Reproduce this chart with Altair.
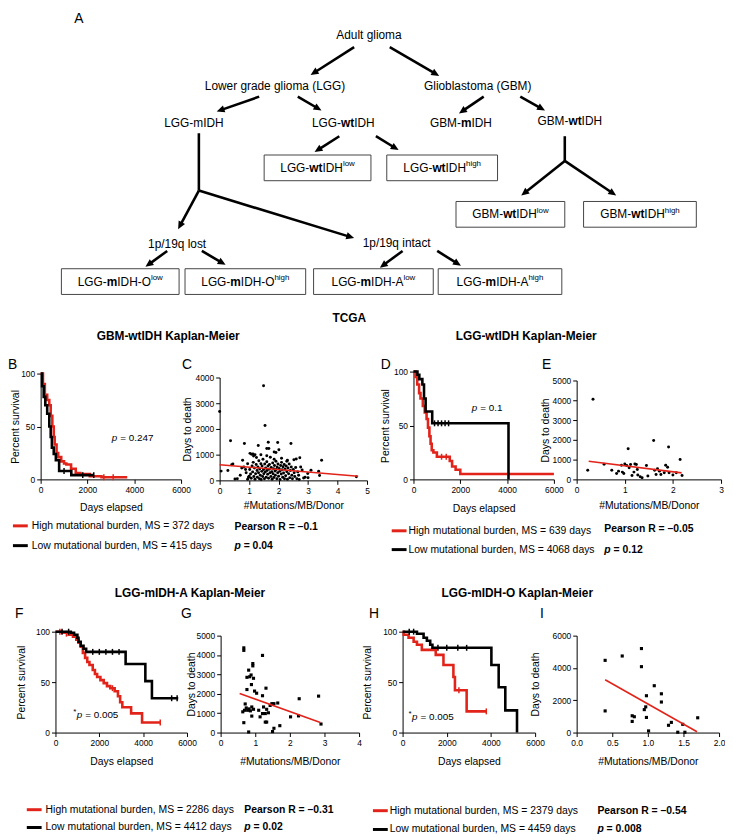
import math
import altair as alt
import pandas as pd

RED = "#e2231a"
FONT = "Liberation Sans, Arial, Helvetica, sans-serif"

# ---------------- Kaplan-Meier curves (days, % survival) ----------------
B_hi_t = [0, 100, 180, 280, 370, 430, 500, 560, 600, 680, 750, 880, 1000, 1100, 1300, 1500, 1700, 2100, 2600, 3700]
B_hi_s = [100, 90, 80, 75, 70, 60, 50, 40, 33, 25, 21, 17, 15, 14, 10, 6, 5, 3, 2, 2]
B_lo_t = [0, 60, 130, 200, 280, 370, 430, 480, 560, 650, 790, 1310, 2270]
B_lo_s = [100, 88, 78, 70, 62, 50, 40, 30, 24, 18, 8, 4, 4]

D_hi_t = [0, 90, 160, 240, 300, 400, 480, 560, 620, 680, 730, 780, 850, 1000, 1550, 1650, 1800, 2000, 6000]
D_hi_s = [100, 95, 88, 80, 75, 68, 62, 56, 48, 40, 33, 27, 25, 21, 17, 12, 9, 5, 5]
D_lo_t = [0, 170, 250, 380, 450, 520, 800, 4060]
D_lo_s = [100, 97, 93, 88, 75, 63, 52, 0]

F_hi_t = [0, 300, 600, 800, 950, 1050, 1150, 1250, 1350, 1450, 1550, 1700, 1800, 1900, 2050, 2200, 2350, 2500, 2700, 2850, 2950, 3050, 3450, 3950, 4780]
F_hi_s = [100, 99, 97, 95, 92, 89, 85, 79, 74, 70, 67, 62, 58, 55, 52, 49, 46, 44, 41, 36, 30, 25, 19, 10, 10]
F_lo_t = [0, 700, 850, 1000, 1050, 1150, 1280, 1400, 3200, 4100, 4400, 5600]
F_lo_s = [100, 99, 97, 94, 90, 86, 83, 80, 68, 51, 34, 34]

H_hi_t = [0, 50, 270, 500, 650, 870, 1500, 1850, 2300, 2370, 2900, 3790]
H_hi_s = [100, 97, 94, 90, 87, 82, 77, 67, 55, 42, 21, 21]
H_lo_t = [0, 650, 950, 1100, 1250, 1350, 4020, 4350, 4650, 5180]
H_lo_s = [100, 98, 94, 91, 87, 84, 67, 45, 22, 0]

# censored observations (days, % survival)
B_hi_ct, B_hi_cs = [1500, 2700, 3100], [6, 2, 2]
B_lo_ct, B_lo_cs = [1000, 1800, 2270], [8, 4, 4]
D_hi_ct, D_hi_cs = [1200, 1400], [21, 21]
D_lo_ct, D_lo_cs = [900, 1050, 1200, 1350, 1500], [52, 52, 52, 52, 52]
F_hi_ct, F_hi_cs = [200, 500, 2600, 4780], [100, 98, 44, 10]
F_lo_ct, F_lo_cs = [300, 600, 1700, 2000, 2300, 2600, 2900, 5300, 5550], [100, 100, 80, 80, 80, 80, 80, 34, 34]
H_hi_ct, H_hi_cs = [2550, 3790], [42, 21]
H_lo_ct, H_lo_cs = [300, 500, 1600, 2000, 2500, 2900], [100, 100, 84, 84, 84, 84]

# ---------------- scatter data (#mutations/MB/donor, days to death) ----------------
C_x = [0.00, 0.05, 0.28, 0.37, 0.41, 0.45, 0.52, 0.60, 0.70, 0.75, 0.78, 0.82, 0.84, 0.88, 0.90, 0.95, 0.95, 0.98,
       1.00, 1.03, 1.08, 1.13, 1.15, 1.20, 1.31, 1.40, 1.49, 1.54, 1.60, 1.60, 1.65, 1.67, 1.85, 1.85, 1.91, 1.97,
       2.01, 2.10, 2.28, 2.30, 2.42, 2.52, 2.60, 2.72, 2.75, 2.80, 2.85, 2.90, 2.99, 3.00, 3.10, 3.36, 3.39, 3.46, 4.64,
       1.02, 1.05, 1.07, 1.10, 1.12, 1.14, 1.16, 1.18, 1.20, 1.22, 1.24, 1.25, 1.27, 1.28, 1.30, 1.32, 1.33, 1.35,
       1.36, 1.38, 1.40, 1.41, 1.43, 1.44, 1.46, 1.47, 1.49, 1.50, 1.52, 1.53, 1.55, 1.56, 1.58, 1.60, 1.61, 1.63,
       1.64, 1.66, 1.68, 1.69, 1.71, 1.72, 1.74, 1.75, 1.77, 1.78, 1.80, 1.81, 1.83, 1.84, 1.86, 1.88, 1.89, 1.91,
       1.92, 1.94, 1.95, 1.97, 1.98, 2.00, 2.02, 2.04, 2.05, 2.07, 2.09, 2.10, 2.12, 2.14, 2.15, 2.17, 2.19, 2.20,
       2.22, 2.24, 2.26, 2.28, 2.30, 2.32, 2.34, 2.36, 2.38, 2.40, 2.43, 2.45, 2.47, 2.50, 2.53, 2.55, 2.58, 2.62,
       2.65, 2.68, 2.70]
C_y = [2680, 360, 380, 1540, 610, 640, 50, 60, 200, 480, 780, 520, 1430, 420, 300, 650, 40, 120,
       160, 1050, 1020, 1030, 950, 1000, 1355, 1000, 3680, 2130, 1240, 960, 1480, 1240, 1100, 820, 1086, 1470,
       1190, 860, 740, 780, 1430, 805, 830, 880, 524, 400, 90, 120, 268, 100, 396, 358, 192, 780, 140,
       420, 250, 80, 560, 330, 700, 150, 480, 40, 260, 620, 890, 380, 120, 520, 300, 760, 60,
       440, 200, 650, 30, 350, 560, 150, 820, 420, 260, 60, 640, 330, 480, 120, 720, 380, 240,
       560, 80, 430, 620, 300, 900, 150, 500, 340, 40, 680, 260, 450, 110, 580, 360, 200, 740,
       420, 60, 520, 300, 640, 160, 460, 350, 30, 580, 250, 700, 410, 120, 530, 290, 620, 60,
       440, 180, 560, 340, 40, 480, 260, 640, 100, 380, 520, 200, 60, 420, 300, 150, 500, 60,
       330, 200, 30]
C_fit_x = [0.0, 4.7]
C_fit_y = [610, 160]

E_x = [0.23, 0.34, 0.57, 0.73, 0.83, 0.87, 0.93, 0.95, 0.98, 1.00, 1.04, 1.07, 1.09, 1.12, 1.15, 1.19, 1.21, 1.24,
       1.26, 1.27, 1.32, 1.36, 1.45, 1.48, 1.60, 1.62, 1.65, 1.68, 1.72, 1.75, 1.82, 1.85, 1.89, 1.91, 1.92, 2.00,
       2.07, 2.15, 2.19]
E_y = [467, 4050, 767, 467, 300, 417, 717, 367, 300, 783, 700, 1550, 583, 750, 200, 367, 783, 750,
       500, 217, 133, 83, 700, 167, 1967, 467, 250, 533, 417, 250, 333, 717, 617, 1633, 333, 217,
       333, 1000, 200]
E_fit_x = [0.25, 2.18]
E_fit_y = [920, 330]

G_x = [0.81, 0.67, 0.67, 1.21, 0.93, 0.93, 0.76, 0.84, 0.88, 0.95, 0.89, 0.76, 0.98, 1.04, 1.31, 1.21, 0.71, 0.69,
       0.74, 0.78, 0.82, 0.86, 0.90, 0.95, 0.64, 0.67, 0.81, 0.90, 1.10, 1.14, 1.21, 1.24, 1.29, 1.33, 1.38, 1.43,
       1.48, 1.54, 1.65, 1.29, 1.33, 1.54, 1.50, 1.71, 2.02, 2.25, 2.27, 2.83, 2.90]
G_y = [3220, 4370, 4240, 3980, 3560, 3440, 2850, 2880, 2970, 2800, 2475, 2220, 2140, 2030, 2290, 1900, 1475, 1150,
       1270, 1150, 1220, 1120, 1320, 1200, 1070, 510, 30, 850, 1150, 810, 980, 1320, 980, 1200, 1020, 1400,
       1490, 1490, 1525, 540, 540, 220, 50, 355, 810, 860, 1745, 1880, 440]
G_fit_x = [0.55, 2.88]
G_fit_y = [2020, 520]

I_x = [0.40, 0.64, 0.91, 0.91, 0.40, 1.09, 0.98, 1.19, 1.19, 0.97, 0.95, 0.78, 0.81, 0.78, 0.98, 1.01, 1.33,
       1.29, 1.49, 1.42, 1.52, 1.70]
I_y = [4470, 4740, 5200, 4080, 1340, 2900, 2280, 2400, 1890, 1590, 1420, 1040, 980, 690, 935, 100, 630,
       450, 510, 20, 20, 915]
I_fit_x = [0.40, 1.69]
I_fit_y = [3270, 50]

# ---------------- diagram text ----------------
NODE_LABELS = [
    [("Adult glioma", "n")],
    [("Lower grade glioma (LGG)", "n")],
    [("Glioblastoma (GBM)", "n")],
    [("LGG-mIDH", "n")],
    [("LGG-", "n"), ("wt", "b"), ("IDH", "n")],
    [("GBM-", "n"), ("m", "b"), ("IDH", "n")],
    [("GBM-", "n"), ("wt", "b"), ("IDH", "n")],
    [("1p/19q lost", "n")],
    [("1p/19q intact", "n")],
    [("TCGA", "b")],
]
BOX_LABELS = [
    [("LGG-", "n"), ("wt", "b"), ("IDH", "n"), ("low", "s")],
    [("LGG-", "n"), ("wt", "b"), ("IDH", "n"), ("high", "s")],
    [("GBM-", "n"), ("wt", "b"), ("IDH", "n"), ("low", "s")],
    [("GBM-", "n"), ("wt", "b"), ("IDH", "n"), ("high", "s")],
    [("LGG-", "n"), ("m", "b"), ("IDH-O", "n"), ("low", "s")],
    [("LGG-", "n"), ("m", "b"), ("IDH-O", "n"), ("high", "s")],
    [("LGG-", "n"), ("m", "b"), ("IDH-A", "n"), ("low", "s")],
    [("LGG-", "n"), ("m", "b"), ("IDH-A", "n"), ("high", "s")],
]

# ---------------- layout (pixels) ----------------
VIEW_W, VIEW_H = 725, 830
NODE_POS = [(365, 23), (270, 74), (475, 74), (188, 112), (339, 112), (458, 112), (568, 110),
            (171, 234), (393, 233), (345, 309)]
BOX_POS = [(259, 144, 367, 170), (383, 144, 495, 170), (453, 191, 563, 217), (582, 191, 696, 217),
           (54, 259, 173, 285), (179, 259, 301, 285), (309, 259, 430, 285), (435, 259, 560, 285)]
ARROWS = [  # x1, y1, x2, y2, head
    (350, 35, 306, 63, 1), (386, 35, 436, 64, 1),
    (254, 85, 211, 100, 1), (293, 85, 317, 99, 1),
    (481, 85, 456, 102, 1), (518, 85, 543, 99, 1),
    (335, 125, 310, 141, 1), (372, 125, 395, 139, 1),
    (193, 122, 193, 180, 0), (193, 180, 172, 219, 1), (193, 180, 350, 228, 1),
    (563, 125, 563, 150, 0), (563, 150, 519, 185, 1), (563, 150, 615, 185, 1),
    (161, 241, 139, 257, 1), (196, 241, 220, 255, 1),
    (399, 241, 376, 258, 1), (434, 241, 458, 256, 1),
]

REG = {' ': 278, '(': 333, ')': 333, '-': 333, '/': 278, '1': 556, '9': 556, 'A': 667, 'B': 667, 'C': 722,
       'D': 722, 'G': 778, 'H': 722, 'I': 278, 'L': 556, 'M': 833, 'O': 778, 'T': 611, 'a': 556, 'b': 556,
       'c': 500, 'd': 556, 'e': 556, 'g': 556, 'h': 556, 'i': 222, 'l': 222, 'm': 833, 'n': 556, 'o': 556,
       'p': 556, 'q': 556, 'r': 333, 's': 500, 't': 278, 'u': 556, 'w': 722, 'y': 500}
BOLD = {' ': 278, '-': 333, 'A': 722, 'C': 722, 'G': 778, 'T': 611, 'm': 889, 't': 333, 'w': 778}
SIZES = {"n": 12, "b": 12, "s": 8}


def tw(s, size, bold):
    tab = BOLD if bold else REG
    return sum(tab.get(c, REG.get(c, 556)) for c in s) * size / 1000.0


def place(segs, cx, cy):
    widths = [tw(t, SIZES[k], k == "b") for t, k in segs]
    x = cx - sum(widths) / 2.0
    rows = []
    for (t, k), w in zip(segs, widths):
        rows.append({"x": x, "y": cy - 3.5 if k == "s" else cy, "text": t, "kind": k})
        x += w
    return rows


text_rows = []
for segs, (cx, cy) in zip(NODE_LABELS, NODE_POS):
    text_rows += place(segs, cx, cy)
box_rows = []
for segs, (x0, y0, x1, y1) in zip(BOX_LABELS, BOX_POS):
    box_rows.append({"x0": x0, "y0": y0, "x1": x1, "y1": y1})
    text_rows += place(segs, (x0 + x1) / 2.0, (y0 + y1) / 2.0)
text_df = pd.DataFrame(text_rows)
box_df = pd.DataFrame(box_rows)

line_rows, head_rows = [], []
for x1, y1, x2, y2, head in ARROWS:
    dx, dy = x2 - x1, y2 - y1
    L = math.hypot(dx, dy)
    ux, uy = dx / L, dy / L
    if head:
        line_rows.append({"a": x1, "b": y1, "c": x2 - 5 * ux, "d": y2 - 5 * uy})
        head_rows.append({"x": x2, "y": y2, "ang": math.degrees(math.atan2(dx, -dy)) % 360})
    else:
        line_rows.append({"a": x1, "b": y1, "c": x2, "d": y2})
line_df = pd.DataFrame(line_rows)
head_df = pd.DataFrame(head_rows)

DX = alt.Scale(domain=[0, 725], range=[0, 725], nice=False, zero=False)
DY = alt.Scale(domain=[0, 320], range=[0, 320], nice=False, zero=False)
ARROW = "M0,0L-0.5,1.1L0.5,1.1Z"

d_boxes = alt.Chart(box_df).mark_rect(fill="white", stroke="#444444", strokeWidth=1).encode(
    x=alt.X("x0:Q", scale=DX, axis=None), x2="x1:Q",
    y=alt.Y("y0:Q", scale=DY, axis=None), y2="y1:Q")
d_lines = alt.Chart(line_df).mark_rule(color="black", strokeWidth=2.6).encode(
    x=alt.X("a:Q", scale=DX, axis=None), y=alt.Y("b:Q", scale=DY, axis=None), x2="c:Q", y2="d:Q")
d_heads = alt.Chart(head_df).mark_point(shape=ARROW, filled=True, size=211, color="black",
                                        opacity=1, strokeWidth=0).encode(
    x=alt.X("x:Q", scale=DX, axis=None), y=alt.Y("y:Q", scale=DY, axis=None),
    angle=alt.Angle("ang:Q", scale=None))


def seg_layer(kind, size, weight):
    return alt.Chart(text_df).transform_filter(alt.datum.kind == kind).mark_text(
        align="left", baseline="middle", font=FONT, fontSize=size, fontWeight=weight, color="black").encode(
        x=alt.X("x:Q", scale=DX, axis=None), y=alt.Y("y:Q", scale=DY, axis=None), text="text:N")


diagram = alt.layer(d_lines, d_heads, d_boxes,
                    seg_layer("n", 12, "normal"), seg_layer("b", 12, "bold"), seg_layer("s", 8, "normal"))

ONE = pd.DataFrame({"k": [0]})


def txt(x, y, s, size=10.5, weight="normal", style="normal", align="left", baseline="middle"):
    return alt.Chart(ONE).mark_text(align=align, baseline=baseline, font=FONT, fontSize=size,
                                    fontWeight=weight, fontStyle=style, color="black").encode(
        x=alt.value(x), y=alt.value(y), text=alt.value(s))


def seg(x1, x2, y, color):
    return alt.Chart(ONE).mark_rule(color=color, strokeWidth=3).encode(
        x=alt.value(x1), x2=alt.value(x2), y=alt.value(y))


def legend(o, xl, xt, y1, y2, hi, lo):
    ox, oy = o
    return [seg(ox + xl, ox + xl + 15, oy + y1, RED), txt(ox + xt, oy + y1, hi),
            seg(ox + xl, ox + xl + 15, oy + y2, "black"), txt(ox + xt, oy + y2, lo)]


def stats(o, x, y1, y2, r, p):
    ox, oy = o
    return [txt(ox + x, oy + y1, r, weight="bold"), txt(ox + x, oy + y2, "p", weight="bold", style="italic"),
            txt(ox + x + 9.3, oy + y2, p, weight="bold")]


def rt(o, x, y, s, **kw):
    return txt(o[0] + x, o[1] + y, s, **kw)


def km_panel(hi, lo, hi_c, lo_c, x0, x1, yb, yt, ytp, xtp):
    xs = alt.Scale(domain=[0, 6000], range=[x0, x1], nice=False, zero=False)
    ys = alt.Scale(domain=[0, 100], range=[yb, yt], nice=False, zero=False)
    xax = alt.Axis(values=[0, 2000, 4000, 6000], format="d", title="Days elapsed", titlePadding=xtp,
                   orient="bottom", offset=yb - VIEW_H)
    yax = alt.Axis(values=[0, 50, 100], format="d", title="Percent survival", titlePadding=ytp,
                   orient="left", offset=-x0)
    X = alt.X("t:Q", scale=xs, axis=xax)
    Y = alt.Y("s:Q", scale=ys, axis=yax)
    layers = []
    for (t, s), (ct, cs), col in ((hi, hi_c, RED), (lo, lo_c, "black")):
        layers.append(alt.Chart(pd.DataFrame({"t": t, "s": s})).mark_line(
            interpolate="step-after", strokeWidth=2.6, color=col).encode(x=X, y=Y))
        layers.append(alt.Chart(pd.DataFrame({"t": ct, "s": cs})).mark_tick(
            orient="vertical", size=6, thickness=1.5, color=col, opacity=1).encode(x=X, y=Y))
    return alt.layer(*layers)


def sc_panel(xv, yv, fx, fy, xdom, xvals, xfmt, ydom, yvals, x0, x1, yb, yt, ytp, xtp, shape, size):
    xs = alt.Scale(domain=xdom, range=[x0, x1], nice=False, zero=False)
    ys = alt.Scale(domain=ydom, range=[yb, yt], nice=False, zero=False)
    xax = alt.Axis(values=xvals, format=xfmt, title="#Mutations/MB/Donor", titlePadding=xtp,
                   orient="bottom", offset=yb - VIEW_H)
    yax = alt.Axis(values=yvals, format="d", title="Days to death", titlePadding=ytp,
                   orient="left", offset=-x0)
    pts = alt.Chart(pd.DataFrame({"x": xv, "y": yv})).mark_point(
        filled=True, shape=shape, size=size, color="black", opacity=1, strokeWidth=0).encode(
        x=alt.X("x:Q", scale=xs, axis=xax), y=alt.Y("y:Q", scale=ys, axis=yax))
    fit = alt.Chart(pd.DataFrame({"x": fx, "y": fy})).mark_line(color=RED, strokeWidth=1.6).encode(
        x=alt.X("x:Q", scale=xs, axis=xax), y=alt.Y("y:Q", scale=ys, axis=yax))
    return alt.layer(pts, fit)


# panel origins (left of plot, top of row)
oB, oC, oD, oE = (33, 320), (214, 320), (410, 320), (575, 320)
oF, oG, oH, oI = (48, 472), (215, 472), (399, 472), (575, 472)

B = km_panel((B_hi_t, B_hi_s), (B_lo_t, B_lo_s), (B_hi_ct, B_hi_cs), (B_lo_ct, B_lo_cs), 33, 175, 472, 365, 0, 9)
C = sc_panel(C_x, C_y, C_fit_x, C_fit_y, [0, 5], [0, 1, 2, 3, 4, 5], "d", [0, 4000], [0, 1000, 2000, 3000, 4000],
             214, 363, 473, 369, 3, 6, "circle", 9)
D = km_panel((D_hi_t, D_hi_s), (D_lo_t, D_lo_s), (D_hi_ct, D_hi_cs), (D_lo_ct, D_lo_cs), 410, 552, 472, 363, 3, 10)
E = sc_panel(E_x, E_y, E_fit_x, E_fit_y, [0, 3], [0, 1, 2, 3], "d", [0, 5000], [0, 1000, 2000, 3000, 4000, 5000],
             575, 721, 472, 372, 2, 7, "circle", 9)
F = km_panel((F_hi_t, F_hi_s), (F_lo_t, F_lo_s), (F_hi_ct, F_hi_cs), (F_lo_ct, F_lo_cs), 48, 181, 728, 626, 9, 10)
G = sc_panel(G_x, G_y, G_fit_x, G_fit_y, [0, 4], [0, 1, 2, 3, 4], "d", [0, 5000], [0, 1000, 2000, 3000, 4000, 5000],
             215, 355, 728, 630, 0, 10, "square", 10)
H = km_panel((H_hi_t, H_hi_s), (H_lo_t, H_lo_s), (H_hi_ct, H_hi_cs), (H_lo_ct, H_lo_cs), 399, 533, 728, 626, 10, 10)
I = sc_panel(I_x, I_y, I_fit_x, I_fit_y, [0, 2], [0, 0.5, 1, 1.5, 2], ".1f", [0, 6000], [0, 2000, 4000, 6000],
             575, 719, 728, 630, 12, 10, "square", 10)

LET = 14  # panel letter font size
notes = [
    txt(67, 11, "A", LET, baseline="alphabetic"),
    # row 1
    rt(oB, 129, 7, "GBM-wtIDH Kaplan-Meier", size=12, weight="bold", align="center"),
    rt(oB, -33, 36, "B", size=LET),
    rt(oB, 72, 110, "p", size=10, style="italic"), rt(oB, 80.5, 110, "= 0.247", size=10),
    rt(oC, -38, 36, "C", size=LET),
    rt(oD, 114, 7, "LGG-wtIDH Kaplan-Meier", size=12, weight="bold", align="center"),
    rt(oD, -33, 36, "D", size=LET),
    rt(oD, 59, 80, "p", size=10, style="italic"), rt(oD, 67.5, 80, "= 0.1", size=10),
    rt(oE, -35, 36, "E", size=LET),
    # row 2
    rt(oF, 136, 115, "LGG-mIDH-A Kaplan-Meier", size=12, weight="bold", align="center"),
    rt(oF, -41, 136, "F", size=LET),
    rt(oF, 18, 235, "*", size=8), rt(oF, 21.5, 238, "p", size=10, style="italic"),
    rt(oF, 30, 238, "= 0.005", size=10),
    rt(oG, -40, 136, "G", size=LET),
    rt(oH, 116, 115, "LGG-mIDH-O Kaplan-Meier", size=12, weight="bold", align="center"),
    rt(oH, -34, 136, "H", size=LET),
    rt(oH, 6, 237, "*", size=8), rt(oH, 9.5, 240, "p", size=10, style="italic"),
    rt(oH, 18, 240, "= 0.005", size=10),
    rt(oI, -37, 136, "I", size=LET),
]
notes += legend(oB, -28, -9, 199, 219, "High mutational burden, MS = 372 days", "Low mutational burden, MS = 415 days")
notes += stats(oC, 15, 200, 219, "Pearson R = \u20130.1", "= 0.04")
notes += legend(oD, -22, -5, 204, 223, "High mutational burden, MS = 639 days", "Low mutational burden, MS = 4068 days")
notes += stats(oE, 28, 202, 223, "Pearson R = \u20130.05", "= 0.12")
notes += legend(oF, -29, -10, 334, 352, "High mutational burden, MS = 2286 days", "Low mutational burden, MS = 4412 days")
notes += stats(oG, 24, 334, 352, "Pearson R = \u20130.31", "= 0.02")
notes += legend(oH, -30, -13, 335, 354, "High mutational burden, MS = 2379 days", "Low mutational burden, MS = 4459 days")
notes += stats(oI, 21, 335, 354, "Pearson R = \u20130.54", "= 0.008")

chart = alt.layer(diagram, B, C, D, E, F, G, H, I, *notes).resolve_scale(
    x="independent", y="independent"
).resolve_axis(
    x="independent", y="independent"
).properties(width=VIEW_W, height=VIEW_H, padding=0).configure_view(stroke="transparent").configure_axis(
    domainColor="black", tickColor="black", labelColor="black", titleColor="black",
    labelFont=FONT, titleFont=FONT, labelFontSize=8.5, titleFontSize=10.5, titleFontWeight="normal",
    tickSize=4, labelPadding=2, grid=False, labelFlush=False, labelOverlap=False,
    domainWidth=1, tickWidth=1,
)

chart.save("out.html", embed_options={"renderer": "svg", "actions": False})
